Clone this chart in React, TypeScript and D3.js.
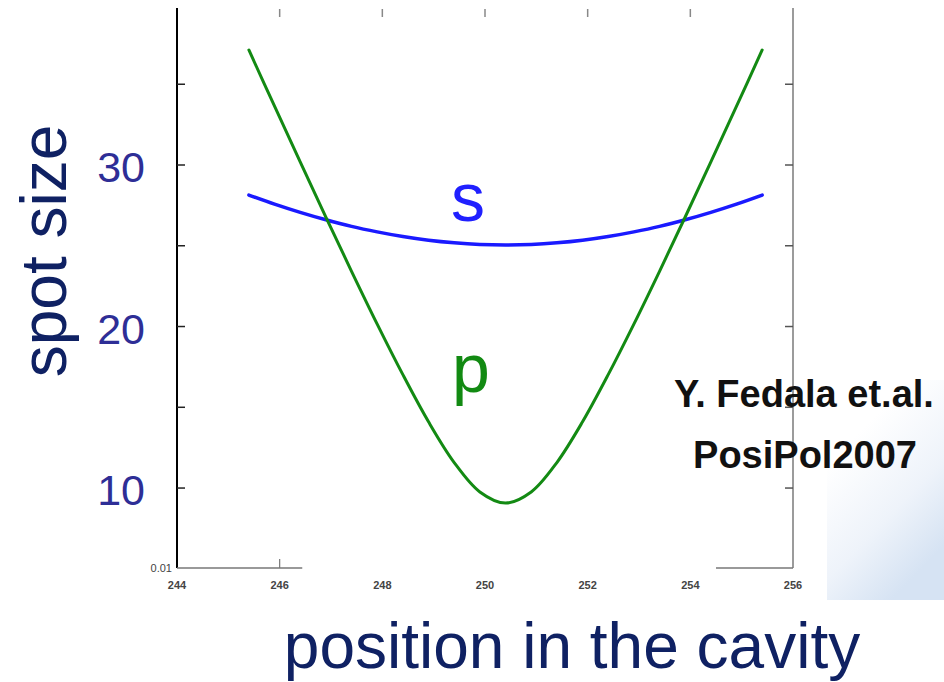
import React from "react";
import * as d3 from "d3";

// Position along the cavity axis (mm)
const positionMm = [
  245.4, 245.9, 246.4, 246.9, 247.4, 247.9, 248.4, 248.9, 249.4, 249.9, 250.4,
  250.9, 251.4, 251.9, 252.4, 252.9, 253.4, 253.9, 254.4, 254.9, 255.4,
];
// Spot size, s-polarisation
const spotS = [
  28.14, 27.58, 27.07, 26.61, 26.2, 25.86, 25.57, 25.34, 25.18, 25.08, 25.05,
  25.08, 25.18, 25.34, 25.57, 25.86, 26.2, 26.61, 27.07, 27.58, 28.14,
];
// Spot size, p-polarisation
const spotP = [
  37.12, 33.64, 30.19, 26.78, 23.42, 20.15, 17.02, 14.1, 11.58, 9.76, 9.07,
  9.76, 11.58, 14.1, 17.02, 20.15, 23.42, 26.78, 30.19, 33.64, 37.12,
];

const xTicks = [244, 246, 248, 250, 252, 254, 256];
const yTicks = [10, 15, 20, 25, 30, 35];
const yLabels = [10, 20, 30];
// Visible pieces of the bottom frame line (mm)
const bottomSegments = [
  [244, 246.44],
  [254.5, 256],
];

export default function App() {
  const W = 944;
  const H = 682;
  const x = d3.scaleLinear().domain([244, 256]).range([177, 793]);
  const y = d3.scaleLinear().domain([5.05, 39.72]).range([568, 8]);

  const line = d3
    .line<number>()
    .x((_, i) => x(positionMm[i]))
    .y((d) => y(d))
    .curve(d3.curveCatmullRom.alpha(0.5));

  const navy = "#0f2163";
  const font = "'Liberation Sans', Arial, sans-serif";

  return (
    <svg
      width={W}
      height={H}
      style={{ position: "absolute", left: 0, top: 0, background: "#fff" }}
    >
      <defs>
        <linearGradient id="cornerFade" x1="0" y1="0" x2="0.55" y2="1">
          <stop offset="0" stopColor="#ffffff" />
          <stop offset="0.3" stopColor="#ffffff" />
          <stop offset="0.7" stopColor="#eef3fa" />
          <stop offset="1" stopColor="#d6e3f3" />
        </linearGradient>
        <clipPath id="unitClip">
          <rect x={0} y={0} width={W} height={601} />
        </clipPath>
      </defs>

      {/* background decoration, bottom right */}
      <rect x={827} y={380} width={117} height={220} fill="url(#cornerFade)" />

      {/* frame: left axis */}
      <line x1={x(244)} x2={x(244)} y1={y(39.72)} y2={y(5.05)} stroke="#000" strokeWidth={2} />
      {/* frame: right axis */}
      <line x1={x(256)} x2={x(256)} y1={y(39.72)} y2={y(5.05)} stroke="#7a7a7a" strokeWidth={1.5} />
      {/* frame: bottom pieces */}
      {bottomSegments.map(([a, b], i) => (
        <line key={i} x1={x(a)} x2={x(b)} y1={y(5.05)} y2={y(5.05)} stroke="#777" strokeWidth={1.5} />
      ))}

      {/* y ticks, left and right (inward) */}
      {yTicks.map((t) => (
        <g key={t}>
          <line x1={x(244)} x2={x(244) + 8} y1={y(t)} y2={y(t)} stroke="#222" strokeWidth={1.5} />
          <line x1={x(256) - 8} x2={x(256)} y1={y(t)} y2={y(t)} stroke="#555" strokeWidth={1.5} />
        </g>
      ))}
      {/* top ticks */}
      {xTicks.slice(1, -1).map((t) => (
        <line key={t} x1={x(t)} x2={x(t)} y1={9} y2={17} stroke="#888" strokeWidth={1.5} />
      ))}
      {/* bottom ticks on visible segments */}
      {xTicks
        .filter((t) => t > 244 && t < 256 && bottomSegments.some(([a, b]) => t >= a && t <= b))
        .map((t) => (
          <line key={t} x1={x(t)} x2={x(t)} y1={y(5.05) - 9} y2={y(5.05)} stroke="#777" strokeWidth={1.2} />
        ))}

      {/* y tick labels */}
      {yLabels.map((t) => (
        <text
          key={t}
          x={145}
          y={y(t) + 17}
          textAnchor="end"
          fontFamily={font}
          fontSize={43}
          fill="#2e2e96"
        >
          {t}
        </text>
      ))}
      <text x={172} y={572} textAnchor="end" fontFamily={font} fontSize={11} fill="#444">
        0.01
      </text>

      {/* x tick labels */}
      {xTicks.map((t) => (
        <text
          key={t}
          x={x(t)}
          y={589}
          textAnchor="middle"
          fontFamily={font}
          fontSize={11}
          fontWeight="bold"
          fill="#444"
        >
          {t}
        </text>
      ))}
      <text
        x={485}
        y={609}
        textAnchor="middle"
        fontFamily={font}
        fontSize={11}
        fill="#333"
        clipPath="url(#unitClip)"
      >
        x / mm
      </text>

      {/* curves */}
      <path d={line(spotS) ?? ""} fill="none" stroke="#1a1aff" strokeWidth={3.5} strokeLinecap="round" />
      <path d={line(spotP) ?? ""} fill="none" stroke="#138a13" strokeWidth={3} strokeLinecap="round" />

      {/* curve labels */}
      <text x={468} y={221} textAnchor="middle" fontFamily={font} fontSize={68} fill="#2020ff">
        s
      </text>
      <text x={471} y={392} textAnchor="middle" fontFamily={font} fontSize={68} fill="#128a12">
        p
      </text>

      {/* citation */}
      <text
        x={804}
        y={407}
        textAnchor="middle"
        fontFamily={font}
        fontWeight="bold"
        fontSize={38}
        fill="#111"
      >
        Y. Fedala et.al.
      </text>
      <text
        x={805}
        y={468}
        textAnchor="middle"
        fontFamily={font}
        fontWeight="bold"
        fontSize={38}
        fill="#111"
      >
        PosiPol2007
      </text>

      {/* axis titles */}
      <text
        transform={`translate(66, 251) rotate(-90)`}
        textAnchor="middle"
        fontFamily={font}
        fontSize={64}
        fill={navy}
      >
        spot size
      </text>
      <text
        x={572}
        y={668}
        textAnchor="middle"
        fontFamily={font}
        fontSize={64}
        fill={navy}
      >
        position in the cavity
      </text>
    </svg>
  );
}
